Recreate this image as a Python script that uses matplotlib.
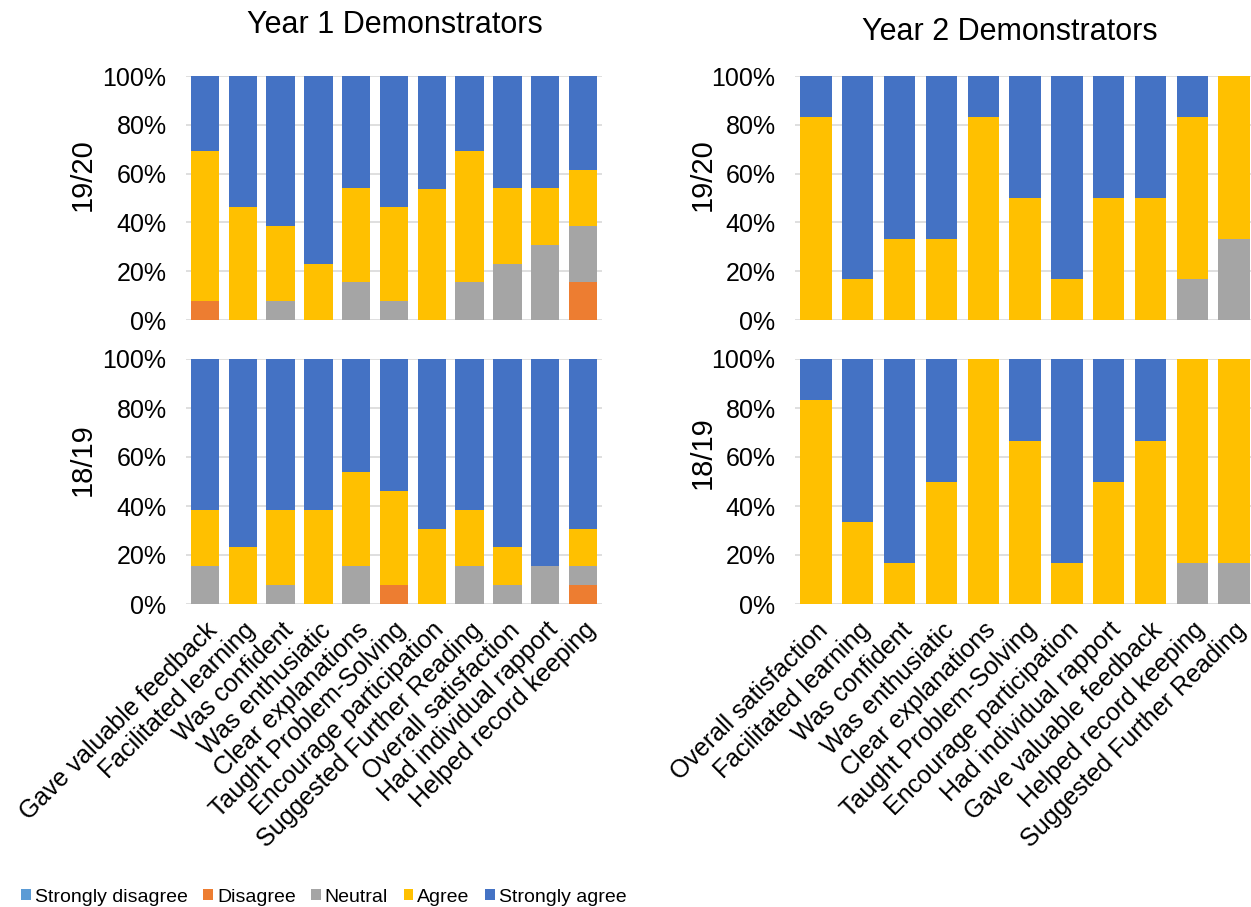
import matplotlib

matplotlib.use("Agg")
import matplotlib.pyplot as plt
import numpy as np
from matplotlib.ticker import PercentFormatter

plt.rcParams["font.family"] = ["Liberation Sans", "DejaVu Sans"]

LEVELS = ["Strongly disagree", "Disagree", "Neutral", "Agree", "Strongly agree"]
COLORS = ["#5B9BD5", "#ED7D31", "#A5A5A5", "#FFC000", "#4472C4"]

# item order differs between the two year groups
y1_items = [
    "Gave valuable feedback", "Facilitated learning", "Was confident",
    "Was enthusiatic", "Clear explanations", "Taught Problem-Solving",
    "Encourage participation", "Suggested Further Reading",
    "Overall satisfaction", "Had individual rapport", "Helped record keeping",
]
y2_items = [
    "Overall satisfaction", "Facilitated learning", "Was confident",
    "Was enthusiatic", "Clear explanations", "Taught Problem-Solving",
    "Encourage participation", "Had individual rapport",
    "Gave valuable feedback", "Helped record keeping", "Suggested Further Reading",
]

# percentages, one value per item; strongly disagree is empty everywhere
y1_1920_sd = [0, 0, 0, 0, 0, 0, 0, 0, 0, 0, 0]
y1_1920_d = [7.7, 0, 0, 0, 0, 0, 0, 0, 0, 0, 15.4]
y1_1920_n = [0, 0, 7.7, 0, 15.4, 7.7, 0, 15.4, 23.1, 30.8, 23.1]
y1_1920_a = [61.5, 46.2, 30.8, 23.1, 38.5, 38.5, 53.8, 53.8, 30.8, 23.1, 23.1]
y1_1920_sa = [30.8, 53.8, 61.5, 76.9, 46.2, 53.8, 46.2, 30.8, 46.2, 46.2, 38.5]

y1_1819_sd = [0, 0, 0, 0, 0, 0, 0, 0, 0, 0, 0]
y1_1819_d = [0, 0, 0, 0, 0, 7.7, 0, 0, 0, 0, 7.7]
y1_1819_n = [15.4, 0, 7.7, 0, 15.4, 0, 0, 15.4, 7.7, 15.4, 7.7]
y1_1819_a = [23.1, 23.1, 30.8, 38.5, 38.5, 38.5, 30.8, 23.1, 15.4, 0, 15.4]
y1_1819_sa = [61.5, 76.9, 61.5, 61.5, 46.2, 53.8, 69.2, 61.5, 76.9, 84.6, 69.2]

y2_1920_sd = [0, 0, 0, 0, 0, 0, 0, 0, 0, 0, 0]
y2_1920_d = [0, 0, 0, 0, 0, 0, 0, 0, 0, 0, 0]
y2_1920_n = [0, 0, 0, 0, 0, 0, 0, 0, 0, 16.7, 33.3]
y2_1920_a = [83.3, 16.7, 33.3, 33.3, 83.3, 50, 16.7, 50, 50, 66.7, 66.7]
y2_1920_sa = [16.7, 83.3, 66.7, 66.7, 16.7, 50, 83.3, 50, 50, 16.7, 0]

y2_1819_sd = [0, 0, 0, 0, 0, 0, 0, 0, 0, 0, 0]
y2_1819_d = [0, 0, 0, 0, 0, 0, 0, 0, 0, 0, 0]
y2_1819_n = [0, 0, 0, 0, 0, 0, 0, 0, 0, 16.7, 16.7]
y2_1819_a = [83.3, 33.3, 16.7, 50, 100, 66.7, 16.7, 50, 66.7, 83.3, 83.3]
y2_1819_sa = [16.7, 66.7, 83.3, 50, 0, 33.3, 83.3, 50, 33.3, 0, 0]

fig = plt.figure(figsize=(12.51, 9.07), dpi=100)
W, H = 1251, 907


def place(x0, x1, y0, y1):
    return fig.add_axes([x0 / W, 1 - y1 / H, (x1 - x0) / W, (y1 - y0) / H])


def stacked(ax, series, labels, show_x):
    x = np.arange(len(labels))
    bottom = np.zeros(len(labels))
    for vals, name, col in zip(series, LEVELS, COLORS):
        vals = np.array(vals, dtype=float)
        ax.bar(x, vals, 0.75, bottom=bottom, color=col, label=name, zorder=3)
        bottom += vals
    ax.set_ylim(0, 100)
    ax.set_xlim(-0.5, len(labels) - 0.5)
    ax.set_yticks(range(0, 101, 20))
    ax.yaxis.set_major_formatter(PercentFormatter(decimals=0))
    ax.grid(axis="y", color="#D9D9D9", linewidth=1.2, zorder=0)
    for s in ax.spines.values():
        s.set_visible(False)
    ax.tick_params(axis="y", length=0, labelsize=18, pad=14)
    ax.tick_params(axis="x", length=0, pad=10)
    ax.set_xticks(x)
    if show_x:
        ax.set_xticklabels(labels, rotation=45, ha="right",
                           rotation_mode="anchor", fontsize=18)
    else:
        ax.set_xticklabels([])


ax1 = place(186, 602, 76, 320)
ax2 = place(186, 602, 359, 604)
ax3 = place(795, 1255, 76, 320)
ax4 = place(795, 1255, 359, 604)

stacked(ax1, [y1_1920_sd, y1_1920_d, y1_1920_n, y1_1920_a, y1_1920_sa],
        y1_items, False)
stacked(ax2, [y1_1819_sd, y1_1819_d, y1_1819_n, y1_1819_a, y1_1819_sa],
        y1_items, True)
stacked(ax3, [y2_1920_sd, y2_1920_d, y2_1920_n, y2_1920_a, y2_1920_sa],
        y2_items, False)
stacked(ax4, [y2_1819_sd, y2_1819_d, y2_1819_n, y2_1819_a, y2_1819_sa],
        y2_items, True)

# row labels sit a bit above the middle of each panel
for xc, yc, txt in [(83, 175, "19/20"), (83, 460, "18/19"),
                    (703, 175, "19/20"), (703, 453, "18/19")]:
    fig.text(xc / W, 1 - yc / H, txt, rotation=90, ha="center",
             va="center", fontsize=21)

fig.text(395 / W, 1 - 25 / H, "Year 1 Demonstrators", ha="center",
         va="center", fontsize=22)
fig.text(1010 / W, 1 - 32 / H, "Year 2 Demonstrators", ha="center",
         va="center", fontsize=22)

handles, labels = ax1.get_legend_handles_labels()
fig.legend(handles, labels, loc="lower left", bbox_to_anchor=(0.003, -0.018),
           ncol=5, frameon=False, fontsize=14, handlelength=0.5,
           handleheight=0.5, handletextpad=0.2, columnspacing=0.8)

fig.savefig("out.png", dpi=100)
